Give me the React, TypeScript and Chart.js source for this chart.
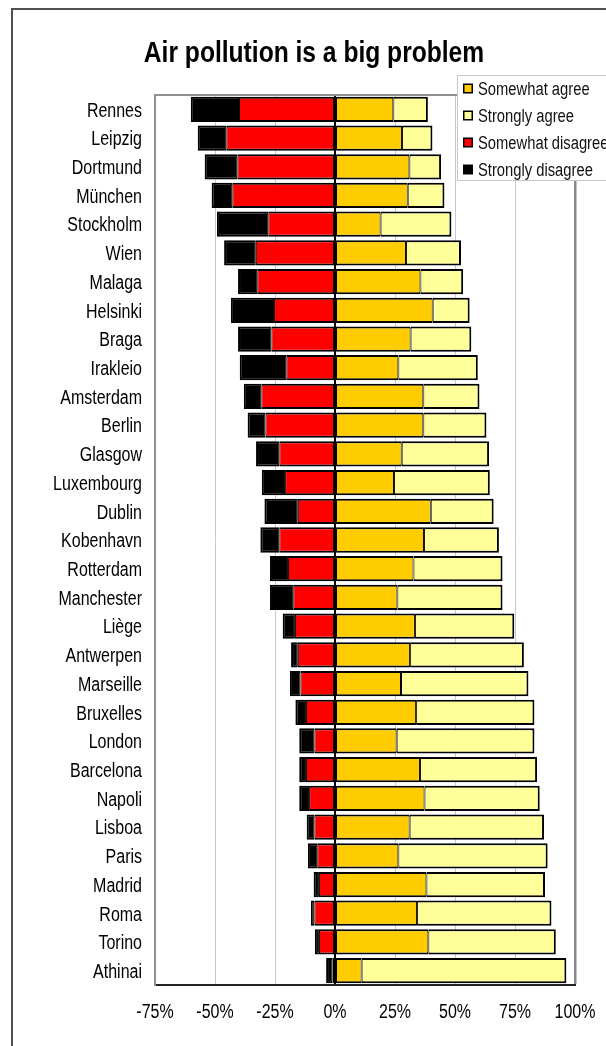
import React, { useEffect, useRef } from "react";
import { Chart, registerables } from "chart.js";

Chart.register(...registerables);

const title = "Air pollution is a big problem";

const cities = [
  "Rennes", "Leipzig", "Dortmund", "München", "Stockholm", "Wien", "Malaga",
  "Helsinki", "Braga", "Irakleio", "Amsterdam", "Berlin", "Glasgow", "Luxembourg",
  "Dublin", "Kobenhavn", "Rotterdam", "Manchester", "Liège", "Antwerpen",
  "Marseille", "Bruxelles", "London", "Barcelona", "Napoli", "Lisboa", "Paris",
  "Madrid", "Roma", "Torino", "Athinai",
];

const somewhatAgree = [
  24.3, 27.9, 31.0, 30.3, 19.0, 29.6, 35.6, 40.7, 31.5, 26.4, 36.8, 36.8, 27.8,
  24.6, 39.9, 37.1, 32.7, 26.0, 33.3, 31.3, 27.5, 33.8, 25.7, 35.4, 37.3, 31.1,
  26.4, 38.1, 34.2, 38.9, 11.1,
];

const stronglyAgree = [
  14.4, 12.7, 13.2, 15.3, 29.5, 22.9, 17.8, 15.4, 25.3, 33.1, 23.4, 26.3, 36.4,
  39.9, 26.2, 31.2, 37.1, 43.8, 41.4, 47.4, 53.1, 49.3, 57.4, 48.8, 48.0, 56.0,
  62.2, 49.4, 56.0, 53.1, 85.3,
];

const somewhatDisagree = [
  -40.0, -45.3, -40.7, -42.8, -27.8, -33.0, -32.4, -25.4, -26.5, -20.3, -30.7,
  -29.0, -23.2, -20.8, -15.5, -23.2, -19.6, -17.4, -16.7, -15.5, -14.4, -12.1,
  -8.6, -12.1, -10.8, -8.6, -7.4, -6.7, -8.6, -6.7, -1.1,
];

const stronglyDisagree = [
  -20.1, -11.9, -13.6, -8.6, -21.4, -13.2, -8.0, -18.0, -13.9, -19.4, -7.3,
  -7.4, -9.7, -9.7, -13.9, -7.9, -7.5, -9.7, -5.1, -2.8, -4.4, -4.4, -6.3,
  -2.8, -4.1, -3.2, -3.9, -2.2, -1.4, -1.7, -2.6,
];

const xTicks = [-75, -50, -25, 0, 25, 50, 75, 100];

const seriesNames = ["Somewhat agree", "Strongly agree", "Somewhat disagree", "Strongly disagree"];
const seriesColors = ["#FFCC00", "#FFFF99", "#FF0000", "#000000"];

const FONT = "'Liberation Sans', Arial, sans-serif";
const NARROW = 0.82;

function narrowText(ctx: CanvasRenderingContext2D, text: string, x: number, y: number, align: CanvasTextAlign, font: string, color: string) {
  ctx.save();
  ctx.font = font;
  ctx.fillStyle = color;
  ctx.textAlign = align;
  ctx.textBaseline = "alphabetic";
  ctx.translate(x, y);
  ctx.scale(NARROW, 1);
  ctx.fillText(text, 0, 0);
  ctx.restore();
}

const decorPlugin = {
  id: "decor",
  beforeDraw(chart: any) {
    const ctx = chart.ctx;
    ctx.save();
    ctx.fillStyle = "#ffffff";
    ctx.fillRect(0, 0, chart.width, chart.height);
    ctx.strokeStyle = "#505050";
    ctx.lineWidth = 2;
    ctx.beginPath();
    ctx.moveTo(12, chart.height + 5);
    ctx.lineTo(12, 9);
    ctx.lineTo(chart.width + 5, 9);
    ctx.stroke();
    ctx.restore();
    narrowText(ctx, title, 314, 62, "center", `bold 30px ${FONT}`, "#000");
  },
  afterDraw(chart: any) {
    const ctx = chart.ctx;
    const a = chart.chartArea;
    const xs = chart.scales.x;
    const ys = chart.scales.y;
    // category labels
    chart.data.labels.forEach((lab: string, i: number) => {
      const py = ys.getPixelForTick(i);
      narrowText(ctx, lab, a.left - 13, py + 7.3, "right", `19.5px ${FONT}`, "#000");
    });
    // value tick labels
    xTicks.forEach((v) => {
      narrowText(ctx, `${v}%`, xs.getPixelForValue(v), 1018, "center", `19.5px ${FONT}`, "#000");
    });
    ctx.save();
    // top border of plot area
    ctx.strokeStyle = "#909090";
    ctx.lineWidth = 2;
    ctx.beginPath();
    ctx.moveTo(a.left - 1, a.top);
    ctx.lineTo(a.right + 1, a.top);
    ctx.stroke();
    // legend box
    const lx = 457.5, ly = 75.5, lw = 170, lh = 105;
    ctx.fillStyle = "#ffffff";
    ctx.fillRect(lx, ly, lw, lh);
    ctx.strokeStyle = "#c8c8c8";
    ctx.lineWidth = 1;
    ctx.strokeRect(lx, ly, lw, lh);
    ctx.restore();
    chart.data.datasets.forEach((ds: any, i: number) => {
      const cy = 88.5 + i * 27;
      ctx.save();
      ctx.fillStyle = "#000";
      ctx.fillRect(463, cy - 5, 10, 10);
      ctx.fillStyle = ds.backgroundColor;
      ctx.fillRect(464.5, cy - 3.5, 7, 7);
      ctx.restore();
      narrowText(ctx, ds.label, 478, cy + 6.5, "left", `18px ${FONT}`, "#111");
    });
  },
};

export default function App() {
  const ref = useRef<HTMLCanvasElement>(null);

  useEffect(() => {
    if (!ref.current) return;
    const values = [somewhatAgree, stronglyAgree, somewhatDisagree, stronglyDisagree];
    const borders = [
      { top: 2, bottom: 2, left: 1, right: 1 },
      { top: 2, bottom: 2, left: 1, right: 2 },
      { top: 2, bottom: 2, left: 1, right: 1 },
      { top: 2, bottom: 2, left: 2, right: 1 },
    ];
    const chart = new Chart(ref.current, {
      type: "bar",
      data: {
        labels: cities,
        datasets: values.map((v, i) => ({
          label: seriesNames[i],
          data: v,
          backgroundColor: seriesColors[i],
          borderColor: "#000000",
          borderWidth: borders[i],
          borderSkipped: false,
          barPercentage: 0.88,
          categoryPercentage: 1,
          stack: "s",
        })),
      },
      options: {
        indexAxis: "y",
        responsive: false,
        maintainAspectRatio: false,
        animation: false,
        layout: { padding: { top: 95, right: 31, bottom: 0, left: 0 } },
        plugins: {
          legend: { display: false },
          title: { display: false },
          tooltip: { enabled: false },
        },
        scales: {
          x: {
            stacked: true,
            min: -75,
            max: 100,
            afterFit: (s: any) => { s.height = 61; },
            ticks: { display: false, stepSize: 25 },
            grid: {
              drawTicks: false,
              color: (c: any) => (c.tick && c.tick.value === 0 ? "#000" : c.tick && c.tick.value === 100 ? "#888" : "#c8c8c8"),
              lineWidth: (c: any) => (c.tick && c.tick.value === 0 ? 2 : c.tick && c.tick.value === 100 ? 2.5 : 1),
            },
            border: { color: "#222", width: 2 },
          },
          y: {
            stacked: true,
            afterFit: (s: any) => { s.width = 155; },
            ticks: { display: false },
            grid: { display: false, drawTicks: false },
            border: { color: "#909090", width: 2 },
          },
        },
      },
      plugins: [decorPlugin],
    });
    return () => chart.destroy();
  }, []);

  return (
    <div style={{ position: "fixed", left: 0, top: 0, width: 606, height: 1046, overflow: "hidden", background: "#fff" }}>
      <canvas ref={ref} width={606} height={1046} style={{ width: 606, height: 1046, display: "block" }} />
    </div>
  );
}
